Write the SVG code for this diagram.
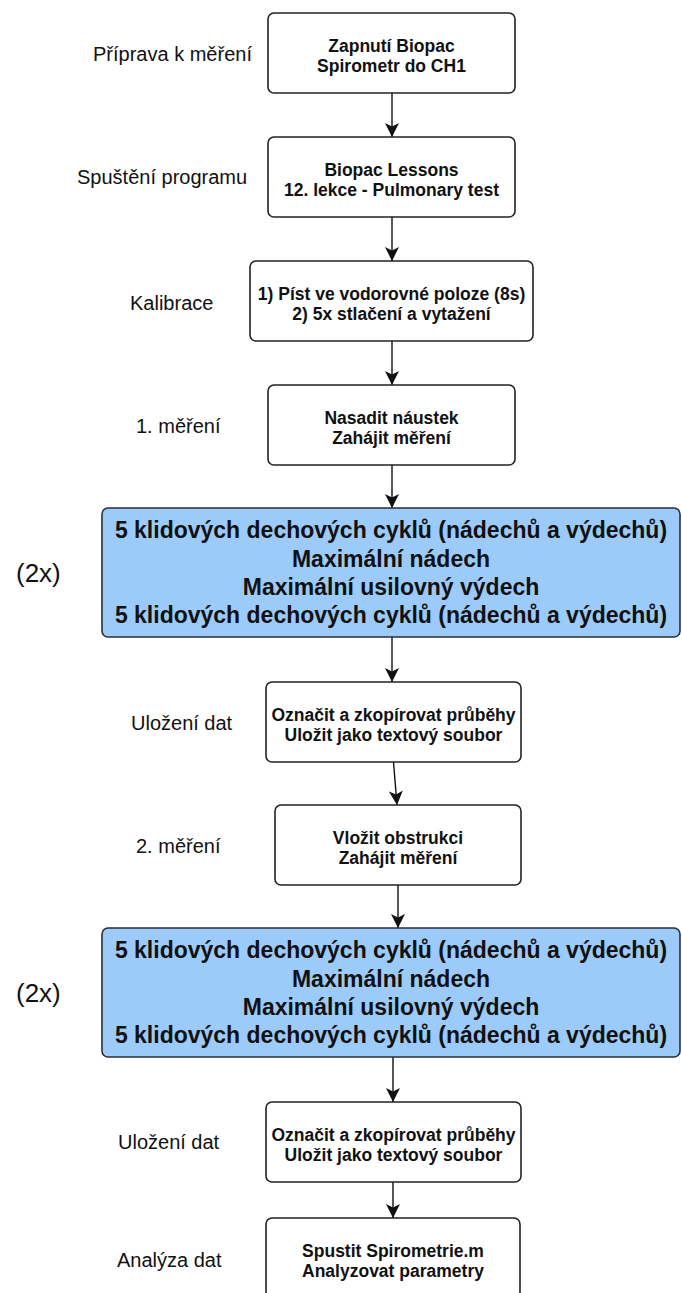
<svg xmlns="http://www.w3.org/2000/svg" width="682" height="1293" viewBox="0 0 682 1293">
<defs>
<marker id="ah" markerUnits="userSpaceOnUse" markerWidth="16" markerHeight="16" viewBox="0 0 16 16" refX="15" refY="8" orient="auto">
<path d="M1,1 L15,8 L1,15 L4.5,8 Z" fill="#111"/>
</marker>
<style>
.box{fill:#fff;stroke:#222;stroke-width:1.6}
.blue{fill:#9ccbf9;stroke:#2a2f36;stroke-width:1.6}
.bt{font-family:"Liberation Sans",Arial,sans-serif;font-weight:bold;font-size:17.5px;fill:#111;text-anchor:middle}
.blt{font-family:"Liberation Sans",Arial,sans-serif;font-weight:bold;font-size:23px;fill:#111;text-anchor:middle}
.lab{font-family:"Liberation Sans",Arial,sans-serif;font-size:20px;fill:#111}
.rep{font-family:"Liberation Sans",Arial,sans-serif;font-size:26px;fill:#111}
.con{stroke:#111;stroke-width:1.4;fill:none;marker-end:url(#ah)}
</style>
</defs>
<rect width="682" height="1293" fill="#fff"/>
<g id="labels">
<text class="lab" x="93" y="61">Příprava k měření</text>
<text class="lab" x="77" y="184">Spuštění programu</text>
<text class="lab" x="130" y="310">Kalibrace</text>
<text class="lab" x="136" y="433">1. měření</text>
<text class="rep" x="16" y="582">(2x)</text>
<text class="lab" x="131" y="730">Uložení dat</text>
<text class="lab" x="136" y="853">2. měření</text>
<text class="rep" x="16" y="1002">(2x)</text>
<text class="lab" x="118" y="1149">Uložení dat</text>
<text class="lab" x="117" y="1267">Analýza dat</text>
</g>
<g id="connectors">
<line class="con" x1="392" y1="93" x2="392" y2="137"/>
<line class="con" x1="392" y1="217" x2="392" y2="261"/>
<line class="con" x1="392" y1="341" x2="392" y2="385"/>
<line class="con" x1="392" y1="465" x2="392" y2="508"/>
<line class="con" x1="392" y1="637" x2="392" y2="682"/>
<line class="con" x1="393.5" y1="762" x2="397" y2="805"/>
<line class="con" x1="398" y1="885" x2="398" y2="928"/>
<line class="con" x1="393" y1="1057" x2="393" y2="1102"/>
<line class="con" x1="393" y1="1182" x2="393" y2="1218"/>
</g>
<g id="n1">
<rect class="box" x="268" y="13" width="247" height="80" rx="6"/>
<text class="bt" x="391.5" y="52">Zapnutí Biopac</text>
<text class="bt" x="391.5" y="72">Spirometr do CH1</text>
</g>
<g id="n2">
<rect class="box" x="268" y="137" width="247" height="80" rx="6"/>
<text class="bt" x="391.5" y="176">Biopac Lessons</text>
<text class="bt" x="391.5" y="196">12. lekce - Pulmonary test</text>
</g>
<g id="n3">
<rect class="box" x="250" y="261" width="283" height="80" rx="6"/>
<text class="bt" x="391.5" y="300">1) Píst ve vodorovné poloze (8s)</text>
<text class="bt" x="391.5" y="320">2) 5x stlačení a vytažení</text>
</g>
<g id="n4">
<rect class="box" x="268" y="385" width="247" height="80" rx="6"/>
<text class="bt" x="391.5" y="424">Nasadit náustek</text>
<text class="bt" x="391.5" y="444">Zahájit měření</text>
</g>
<g id="n5">
<rect class="blue" x="102" y="508" width="578" height="129" rx="6"/>
<text class="blt" x="391" y="538">5 klidových dechových cyklů (nádechů a výdechů)</text>
<text class="blt" x="391" y="567">Maximální nádech</text>
<text class="blt" x="391" y="595">Maximální usilovný výdech</text>
<text class="blt" x="391" y="623">5 klidových dechových cyklů (nádechů a výdechů)</text>
</g>
<g id="n6">
<rect class="box" x="266" y="682" width="255" height="80" rx="6"/>
<text class="bt" x="393.5" y="721">Označit a zkopírovat průběhy</text>
<text class="bt" x="393.5" y="741">Uložit jako textový soubor</text>
</g>
<g id="n7">
<rect class="box" x="275" y="805" width="246" height="80" rx="6"/>
<text class="bt" x="398" y="844">Vložit obstrukci</text>
<text class="bt" x="398" y="864">Zahájit měření</text>
</g>
<g id="n8">
<rect class="blue" x="102" y="928" width="578" height="129" rx="6"/>
<text class="blt" x="391" y="958">5 klidových dechových cyklů (nádechů a výdechů)</text>
<text class="blt" x="391" y="987">Maximální nádech</text>
<text class="blt" x="391" y="1015">Maximální usilovný výdech</text>
<text class="blt" x="391" y="1043">5 klidových dechových cyklů (nádechů a výdechů)</text>
</g>
<g id="n9">
<rect class="box" x="266" y="1102" width="255" height="80" rx="6"/>
<text class="bt" x="393.5" y="1141">Označit a zkopírovat průběhy</text>
<text class="bt" x="393.5" y="1161">Uložit jako textový soubor</text>
</g>
<g id="n10">
<rect class="box" x="266" y="1218" width="254" height="80" rx="6"/>
<text class="bt" x="393" y="1257">Spustit Spirometrie.m</text>
<text class="bt" x="393" y="1277">Analyzovat parametry</text>
</g>
</svg>
